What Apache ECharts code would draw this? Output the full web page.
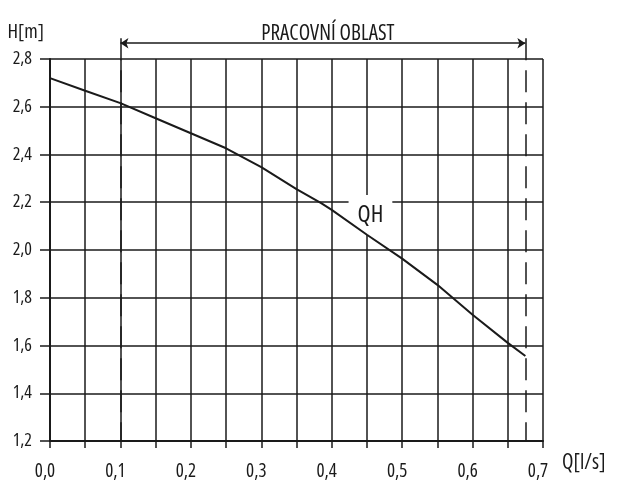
<!DOCTYPE html>
<html>
<head>
<meta charset="utf-8">
<script src="https://cdn.jsdelivr.net/npm/echarts@6/dist/echarts.min.js"></script>
<style>
  html, body { margin: 0; padding: 0; background: #fff; }
  #chart { width: 618px; height: 484px; }
</style>
</head>
<body>
<div id="chart"></div>
<script>
// QH curve
var flow = [0, 0.05, 0.1, 0.15, 0.2, 0.25, 0.27, 0.3, 0.35, 0.385, 0.4, 0.45, 0.5, 0.55, 0.6, 0.65, 0.675]
var head = [2.72, 2.667, 2.615, 2.552, 2.489, 2.426, 2.394, 2.347, 2.255, 2.196, 2.168, 2.064, 1.964, 1.854, 1.729, 1.611, 1.556]

// working range (arrow + dashed limits)
var workFrom = 0.1
var workTo = 0.675
var arrowLevel = 2.866
var guideTop = 2.887
var guideBottom = 1.2
var workTitle = 'PRACOVNÍ OBLAST'

// curve label position
var curveName = 'QH'
var curveLabelAt = [0.455, 2.147]

// narrow drawing-style lettering: Open Sans in its condensed width
var FONT = '"Open Sans"'
var INK = '#1a1a1a'

function txt(size, extra) {
  var s = {
    fontFamily: FONT,
    fontStyle: 'normal',
    fontWeight: 'condensed',
    fontSize: size,
    color: INK
  }
  for (var k in extra) s[k] = extra[k]
  return s
}

function comma(v) {
  return v.toFixed(1).replace('.', ',')
}

var chart = echarts.init(document.getElementById('chart'))

chart.setOption({
  backgroundColor: '#fff',
  animation: false,
  grid: {
    left: 50,
    right: 75,
    top: 59,
    bottom: 43,
    containLabel: false
  },
  xAxis: {
    type: 'value',
    min: 0,
    max: 0.7,
    interval: 0.05,
    name: 'Q[l/s]',
    nameLocation: 'end',
    nameGap: 19,
    nameTextStyle: txt(21, { align: 'left', verticalAlign: 'top', padding: [12, 0, 0, 0] }),
    axisLine: { show: true, lineStyle: { color: INK, width: 2 } },
    axisTick: { show: true, length: 7, lineStyle: { color: INK, width: 1.5 } },
    axisLabel: txt(19, {
      margin: 21,
      padding: [0, 10, 0, 0],
      formatter: function (v) {
        // only every 0.1 gets a number
        return Math.round(v * 100) % 10 === 0 ? comma(v) : ''
      }
    }),
    splitLine: { show: true, lineStyle: { color: INK, width: 1.5 } }
  },
  yAxis: {
    type: 'value',
    min: 1.2,
    max: 2.8,
    interval: 0.2,
    name: 'H[m]',
    nameLocation: 'end',
    nameGap: 17,
    nameTextStyle: txt(20, { align: 'right', padding: [0, 6, 0, 0] }),
    axisLine: { show: true, lineStyle: { color: INK, width: 2 } },
    axisTick: { show: true, length: 10, lineStyle: { color: INK, width: 1.5 } },
    axisLabel: txt(18, {
      margin: 18,
      formatter: function (v) { return comma(v) }
    }),
    splitLine: { show: true, lineStyle: { color: INK, width: 1.5 } }
  },
  series: [
    {
      name: curveName,
      type: 'line',
      z: 3,
      clip: false,
      symbol: 'none',
      lineStyle: { color: INK, width: 2 },
      data: flow.map(function (q, i) { return [q, head[i]] }),
      markPoint: {
        z: 1,
        symbol: 'rect',
        symbolSize: 0,
        label: txt(24, {
          show: true,
          formatter: curveName,
          backgroundColor: '#fff',
          padding: [8, 9, 8, 9]
        }),
        data: [{ coord: curveLabelAt }]
      }
    },
    {
      // arrow over the working range
      name: 'oblast',
      type: 'lines',
      coordinateSystem: 'cartesian2d',
      clip: false,
      symbol: ['arrow', 'arrow'],
      symbolSize: 8,
      lineStyle: { color: INK, width: 1.5, opacity: 1 },
      label: txt(21, {
        show: true,
        position: 'middle',
        distance: -1,
        padding: [0, 0, 0, 10],
        formatter: workTitle
      }),
      data: [{ coords: [[workFrom, arrowLevel], [workTo, arrowLevel]] }]
    },
    {
      // dashed limits of the working range
      name: 'meze',
      type: 'lines',
      coordinateSystem: 'cartesian2d',
      clip: false,
      symbol: 'none',
      lineStyle: { color: INK, width: 1.5, type: [22, 10], opacity: 1 },
      data: [
        { coords: [[workFrom, guideTop], [workFrom, guideBottom]] },
        { coords: [[workTo, guideTop], [workTo, guideBottom]] }
      ]
    }
  ]
})
</script>
</body>
</html>
